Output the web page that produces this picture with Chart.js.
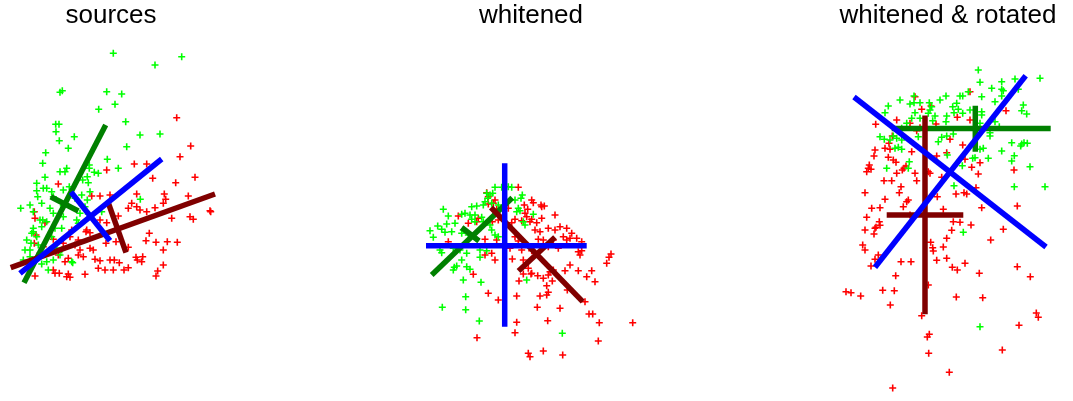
<!DOCTYPE html>
<html>
<head>
<meta charset="utf-8">
<script src="https://cdn.jsdelivr.net/npm/chart.js@4/dist/chart.umd.min.js"></script>
<style>
  html, body { margin: 0; padding: 0; background: #fff; }
  body { width: 1073px; height: 401px; position: relative; overflow: hidden; }
  .panel { position: absolute; top: 0; height: 401px; }
</style>
</head>
<body>
<div class="panel" style="left:0px;width:222px"><canvas id="sources"></canvas></div>
<div class="panel" style="left:411px;width:240px"><canvas id="whitened"></canvas></div>
<div class="panel" style="left:838px;width:220px"><canvas id="rotated"></canvas></div>
<script>
// sample points (x to the right, y downwards)
const sourcesGreen = [[113.3,53.3],[181.7,56.7],[155,65],[60,92.3],[62.3,90.7],[106.7,91.7],[121.7,94],[115,104.3],[98.7,109.3],[125.7,121.7],[55.7,124.3],[59,124.3],[56,131.7],[74.3,136.7],[59.3,140.7],[140,135],[160,134],[68.3,148.3],[126.7,146.7],[45.7,152.7],[42.7,163.3],[107.3,159.3],[118.3,168.3],[89.3,165],[89.3,168.3],[60,171.7],[65,171.7],[66.7,168.3],[94.3,172.3],[98.3,173.3],[45,177.3],[87.3,176.7],[82.7,180],[88.3,182.7],[36.7,183.3],[43.3,188.3],[46.7,188.3],[51.7,191.7],[63.3,190],[69.3,186.7],[36.7,190.7],[81.7,195],[90,191.7],[37.7,196.7],[53.3,196.7],[75,198.3],[87.3,200],[41.7,203.3],[30,205],[20.7,208.3],[63.3,205.7],[50,208.3],[85,206.7],[140.3,199.3],[33.3,211.7],[42.7,220],[53.3,213.3],[63.3,216.7],[80,213.3],[88.3,214],[101.7,211.7],[46.7,221.7],[40,220],[76.7,220],[78.3,223.3],[33.3,228.3],[41.7,226.7],[55,228.3],[61.7,228.3],[31.7,233.3],[33.3,231.7],[36.7,236.7],[51.7,236.7],[26.7,240],[31,243.3],[38.3,245],[25,250],[30,250],[56.7,248.3],[61.7,250],[60,255],[30,256.7],[36.7,258.3],[53.3,260],[46.7,261.7],[41.7,264],[71.7,261.7],[72.7,262.7],[48.3,270],[33.3,262.7],[23.3,260]];
const sourcesRed = [[176.7,117.7],[190.7,146],[180,156.7],[134.3,164],[146.7,164],[106.7,170],[195,177.3],[152.7,178.3],[175.7,182.7],[58.3,184],[100,196],[110,195],[136.7,194],[164.3,194],[188.3,196],[131.7,203.3],[136.7,206.7],[140,210],[146.7,211.7],[155,207.7],[163.3,203.3],[165.7,199.3],[210,210.7],[210.7,211.7],[128.3,208.3],[91.7,196],[118.3,216],[171.7,218.3],[190,216.7],[193.3,219.3],[100,220],[106.7,222.7],[86.7,230],[86,231.7],[90,232.7],[103.3,232.7],[116,241.7],[106,243.3],[128.3,247.3],[149.3,233.3],[146,240.7],[156,242.3],[167.3,241.7],[177.3,242.3],[163.3,250],[78.3,240],[75,245],[70,236.7],[80,250],[90,248.3],[93.3,250],[78.3,255],[83.3,256.7],[58.3,255],[68.3,258.3],[95,259.3],[100,260.7],[110,260],[114.3,260],[119.3,262.7],[136,257.3],[142.7,256.7],[141.7,261.7],[137.3,260],[163.3,265],[157.7,271],[156,276],[128.3,267.7],[124,270],[113.3,270],[105,270],[98.3,268.3],[85,274.3],[68.3,274],[66.7,276.7],[70,277.3],[59.3,273.3],[55,273.3],[35,276],[65,261.7],[53.3,270],[50,250],[53.3,239.3],[43.3,246.7],[34.3,243.3],[34.3,211.7],[36,235],[35,218.3],[45,222.7],[71.7,230],[63.3,243.3],[40,253.3]];

const whitenedGreen = [[495,187.3],[511.7,187.3],[508.3,186.7],[501.7,187.3],[486.7,193.3],[490,195],[492.7,193.3],[487.7,198.3],[522.3,195],[521,198.3],[515,200],[485,201.7],[476.7,206],[471.7,206.7],[483.3,205],[491.7,203.3],[498.3,205],[518.3,208.3],[516.7,211.7],[520,210.7],[443.3,209.3],[448.3,216],[461.7,214.3],[465,213.3],[470,215],[475,215],[471.7,219.3],[481.7,217.3],[483.3,221.7],[475,221.7],[533.3,214.3],[523.3,221.7],[525,225],[455,223.3],[446.7,224],[437.7,226],[441.7,229.3],[430,230.7],[445,232.3],[451.7,231.7],[463.3,230],[461.7,233.3],[468.3,235],[490,225],[491.7,230],[495,235],[498.3,236.7],[433.3,237.3],[440,250],[441.7,252.7],[453.3,248.3],[460,250],[480,250],[486.7,250.7],[466.7,253.3],[480,257.3],[461.7,260],[454.3,267.3],[456.7,266],[466.7,266.7],[470,269.3],[453.3,270],[463.3,280],[481,282.3],[465.7,296.7],[442.3,307.3],[465.7,309.7],[479.3,321],[526.7,280],[562.3,333.3]];
const whitenedRed = [[518.3,187.3],[486.7,192.7],[488.3,196.7],[495,200],[493.3,203.3],[488.3,204],[496.7,209.3],[508.3,208.3],[531.7,200],[533.3,202.7],[524.3,205],[527.7,209.3],[541,205],[544.3,206],[541.7,206.7],[555,215],[525,213.3],[526.7,216.7],[530,221.7],[531.7,219.3],[541.7,218.3],[536.7,222.7],[521.7,220.7],[515,219.3],[511.7,222.7],[498.3,220],[492.3,221.7],[478.3,218.3],[476.7,221.7],[458.3,216],[468.3,223.3],[535,230],[540,231.7],[548.3,228.3],[555,230],[560,226.7],[566.7,228.3],[571.7,233.3],[563.3,236.7],[570,238.3],[566.7,240],[576.7,238.3],[581.7,241.7],[553.3,240],[538.3,239.3],[543.3,240],[515,236.7],[518.3,241],[448.3,241.7],[485,239.3],[496.7,240],[510,248.3],[521.7,250],[531.7,250.7],[548.3,246.7],[558.3,248.3],[578.3,251.7],[581.7,250.7],[580,255],[611,254],[609,257.3],[606.7,263.3],[491.7,253.3],[485,255],[495,260],[512.3,259],[523.3,260],[528.3,268.3],[531.7,273.3],[553.3,270],[565,270.7],[570,265],[578.3,270.7],[591.7,270.7],[473.3,274.3],[488.3,293.3],[498.3,300],[519,281],[516.7,296],[523.3,274],[531,274],[537.7,275.7],[543.3,278.3],[548.3,275],[550,271.7],[552.3,281],[546.7,285.7],[540,296],[546.7,295],[548.3,292.3],[586.7,276.7],[595,281.7],[567.3,290],[585,301.7],[537.3,307.3],[560,308.3],[589,314],[592.7,314],[599.3,322.7],[632.7,322.7],[516.7,322.3],[547.7,320.7],[515,332.7],[477,337.7],[598.3,341],[528.3,353.3],[530,356.7],[543.3,351],[562.7,355]];

const rotatedGreen = [[914,96],[888.3,106],[900,100],[885,112.7],[910,104],[914,102.7],[920,102.7],[929.3,102.7],[940,100],[946,96],[915,112.7],[911.7,118.3],[920,118.3],[930,110],[931.7,106.7],[928.3,113.3],[935,116],[932.7,120.7],[946.7,116],[946,121.7],[906.7,123.3],[901.7,128.3],[893.3,136],[880,136.7],[884.3,139.3],[890,140],[896.7,138.3],[901.7,140],[918.3,136.7],[895,148.3],[898.3,147.3],[901.7,149.3],[938.3,141.7],[941.7,137.3],[946.7,136],[947.3,155],[909.3,161.7],[886.7,168.3],[908.3,168.3],[978.3,70],[1040,78.3],[980,82.3],[1001.7,81.7],[1015,79],[991.7,88.3],[1001.7,89.3],[1003.3,90.7],[968.3,91.7],[960,96],[962.7,96],[981.7,96.7],[1001.7,96],[995,101.7],[1018.3,89.3],[956.7,103.3],[952.7,106.7],[958.3,109.3],[954,112.7],[962.7,113.3],[970,110],[981.7,111.7],[981.7,115],[1023.3,105],[1021.7,110.7],[1026.7,114],[995,121.7],[980,123.3],[999.3,126.7],[953.3,134],[990,132.7],[990,136],[1011.7,142.7],[1021.7,144],[1024,142.7],[1027.3,143.3],[1020.7,146],[980,149.3],[983.3,148.3],[1001.7,151],[1014.3,155.7],[1011.7,161],[972.7,158.3],[975,157.7],[988.3,158.3],[962.3,165.7],[1030,166.7],[954,185.7],[1014.3,186.7],[1045,186.7],[963.3,232.3],[980,326.7]];
const rotatedRed = [[915,96.7],[931,106],[921.7,109.3],[875.7,124.3],[896.7,120],[910,123.3],[936,124],[920,127.7],[916.7,130.7],[892.3,136],[911.7,151.7],[889,143.3],[875,150],[874,156],[885,148.3],[890,149.3],[888.3,157.3],[893.3,160],[896,162.3],[906,166],[904,168.3],[902.3,170],[896.7,173.3],[915,173.3],[869.3,165],[868.3,168.3],[871,169.3],[866.7,171.7],[884,180.7],[891.7,180.7],[916.7,180.7],[901,186.7],[899.3,192.7],[865,192.7],[885,199.3],[908.3,200],[906.7,201.7],[903.3,206.7],[871.7,208.3],[880,207.7],[866.7,217.3],[879.3,221.7],[876,227.3],[880,225.3],[930,173.3],[936.7,156],[937.3,196.7],[941.7,177.3],[928.3,171.7],[946.7,152.7],[943.3,209.3],[910,215],[970,91.7],[957.3,117.3],[970,120],[1006,110.7],[950,139.3],[962.7,145],[965,159.3],[980,162.7],[971.7,167.3],[978.3,174],[1014,170],[976,187.7],[956,194],[964,192.7],[966.7,194],[981.7,207.7],[1017.3,206],[953.3,221.7],[960,222.3],[971,225],[1003.3,229.3],[865,230],[875,228.3],[874,234],[862.7,245],[865,250],[875,259.3],[878.3,255],[871,266],[901,261.7],[911,261.7],[895.7,275.7],[882.7,290.3],[894.3,290.7],[846,291.7],[851,292.7],[860.7,296],[890.3,305],[928.3,285],[921.7,315.7],[929.3,334.3],[927.3,337],[928.7,353.3],[949.3,372.3],[892.7,388],[951.7,230.3],[946.7,238.3],[943.3,247],[930.7,242.3],[932.7,247.7],[933.3,251],[936.7,260.3],[946.7,258.3],[952.3,267.3],[957.3,270],[965,263.3],[979.3,273.3],[956.3,297],[982.7,297.7],[990.7,240],[1017.3,266.7],[1030.3,276.7],[1036.3,313],[1038.3,317.3],[1019,325.3],[1002.3,350]];

// axis segments (start, end) for each component
const sourcesAxesGreen  = [[[24,282.7],[105.7,125]], [[50.7,196.7],[78.3,211]]];
const sourcesAxesBlue   = [[[20,273.3],[161.7,159]], [[71,192],[110,240.7]]];
const sourcesAxesMaroon = [[[10.7,267.7],[215,194]], [[108.7,204],[126,252.7]]];

const whitenedAxesGreen  = [[[431.7,275],[512.3,197.7]], [[461.7,227.5],[479,241]]];
const whitenedAxesBlue   = [[[504.7,163.3],[504.7,326.7]], [[426,245.7],[586.7,245.7]]];
const whitenedAxesMaroon = [[[491,207.5],[582.7,301.7]], [[518.5,271],[555,237.3]]];

const rotatedAxesGreen  = [[[891.7,128.5],[1050.7,128.5]], [[975.3,105.7],[975.3,151.7]]];
const rotatedAxesBlue   = [[[854,97],[1046,247]], [[875,267.3],[1025.7,75.7]]];
const rotatedAxesMaroon = [[[925,115.5],[925,314.3]], [[886.7,215],[963.3,215]]];

const titles = ["sources", "whitened", "whitened & rotated"];

// title block: top padding + 26px * 0.8 line height
const TITLE_PAD = 5;
const TITLE_H = TITLE_PAD + 26 * 0.8;

function toXY(pairs) {
    return pairs.map(p => ({ x: p[0], y: p[1] }));
}

function segDatasets(segs, color) {
    return segs.map(s => ({
        type: 'line',
        data: toXY(s),
        borderColor: color,
        borderWidth: 5.5,
        pointRadius: 0,
        fill: false,
        showLine: true
    }));
}

function pointDataset(pairs, color) {
    return {
        data: toXY(pairs),
        pointStyle: 'cross',
        pointRadius: 3.5,
        borderColor: color,
        backgroundColor: color,
        borderWidth: 1.6
    };
}

function makePanel(id, title, left, width, red, green, axesGreen, axesBlue, axesMaroon) {
    // first dataset is painted last, so the blue axes go first
    const datasets = [
        ...segDatasets(axesBlue, '#0000ff'),
        ...segDatasets(axesMaroon, '#800000'),
        ...segDatasets(axesGreen, '#008000'),
        pointDataset(green, '#00ff00'),
        pointDataset(red, '#ff0000')
    ];
    new Chart(document.getElementById(id), {
        type: 'scatter',
        data: { datasets: datasets },
        options: {
            responsive: true,
            maintainAspectRatio: false,
            animation: false,
            layout: { padding: 0, autoPadding: false },
            plugins: {
                legend: { display: false },
                tooltip: { enabled: false },
                title: {
                    display: true,
                    text: title,
                    color: '#000',
                    padding: { top: TITLE_PAD, bottom: 0 },
                    font: { family: "'Liberation Sans', Arial, sans-serif", size: 26, weight: 'normal', lineHeight: 0.8 }
                }
            },
            scales: {
                x: { display: false, min: left, max: left + width },
                y: { display: false, min: TITLE_H, max: 401, reverse: true }
            }
        }
    });
}

makePanel('sources', titles[0], 0, 222, sourcesRed, sourcesGreen, sourcesAxesGreen, sourcesAxesBlue, sourcesAxesMaroon);
makePanel('whitened', titles[1], 411, 240, whitenedRed, whitenedGreen, whitenedAxesGreen, whitenedAxesBlue, whitenedAxesMaroon);
makePanel('rotated', titles[2], 838, 220, rotatedRed, rotatedGreen, rotatedAxesGreen, rotatedAxesBlue, rotatedAxesMaroon);
</script>
</body>
</html>
